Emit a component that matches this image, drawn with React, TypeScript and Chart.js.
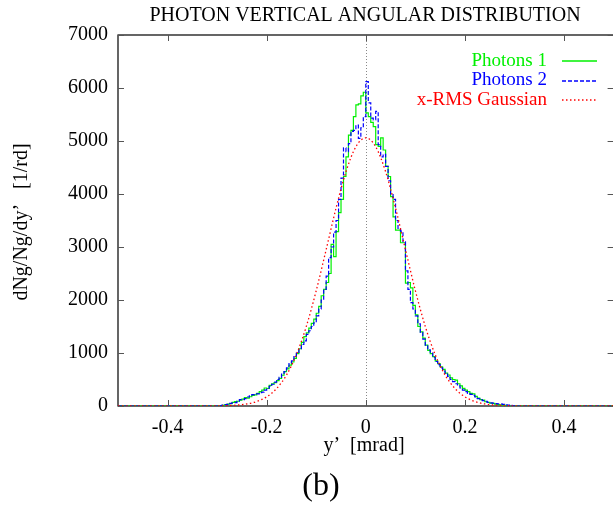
import React, { useEffect, useRef } from "react";
import { Chart, registerables } from "chart.js";

Chart.register(...registerables);

// ---- data ----
const BIN_START = -0.3;
const BIN_WIDTH = 0.005;
const X_MIN = -0.5;
const X_MAX = 0.5;
const Y_MIN = 0;
const Y_MAX = 7000;

const xTicks = [-0.4, -0.2, 0, 0.2, 0.4];
const yTicks = [0, 1000, 2000, 3000, 4000, 5000, 6000, 7000];

// Photons 1 histogram (bins of 0.005 mrad starting at -0.3)
const photons1 = [
  0, 0, 10, 20, 35, 45, 70, 85, 90, 110,
  130, 160, 150, 175, 200, 210, 240, 270, 300, 340,
  330, 390, 420, 440, 480, 520, 580, 650, 700, 770,
  830, 900, 990, 1080, 1200, 1310, 1380, 1470, 1560, 1640,
  1750, 1880, 2080, 2200, 2330, 2500, 3050, 2820, 3290, 3650,
  3900, 4330, 4700, 5110, 5200, 5460, 5680, 5700, 5850, 5920,
  5530, 5460, 5350, 5270, 4930, 4900, 5060, 4830, 4520, 4330,
  3950, 3570, 3320, 3320, 3080, 3080, 2320, 2330, 2230, 1900,
  1720, 1500, 1400, 1280, 1150, 1050, 990, 930, 850, 800,
  740, 690, 620, 585, 530, 500, 490, 420, 380, 334,
  300, 270, 240, 230, 180, 150, 120, 110, 80, 70,
  55, 50, 35, 25, 20, 15, 10, 5, 0, 0,
];

// Photons 2 histogram (same bins)
const photons2 = [
  0, 5, 15, 25, 30, 50, 60, 65, 90, 120,
  120, 140, 170, 190, 215, 230, 230, 250, 260, 300,
  330, 370, 410, 450, 500, 540, 600, 650, 720, 800,
  850, 930, 1000, 1080, 1160, 1230, 1350, 1420, 1500, 1570,
  1700, 1830, 2000, 2200, 2450, 2800, 3000, 3280, 3500, 3900,
  4300, 4870, 4800, 4950, 5180, 5200, 5300, 5050, 5250, 5460,
  6120, 5720, 5430, 5400, 5560, 4930, 4700, 4750, 4520, 4250,
  4000, 3900, 3500, 3350, 3300, 3100, 2550, 2200, 1950, 1830,
  1700, 1550, 1390, 1260, 1150, 1060, 1000, 920, 840, 780,
  720, 660, 600, 560, 500, 460, 420, 380, 340, 300,
  270, 240, 220, 200, 170, 140, 120, 100, 90, 70,
  60, 55, 45, 40, 40, 30, 20, 15, 10, 5,
];

// x-RMS Gaussian curve
const gaussX = [
  -0.5, -0.3, -0.28, -0.26, -0.24, -0.22, -0.2, -0.18, -0.16, -0.14, -0.12,
  -0.1, -0.08, -0.06, -0.04, -0.02, 0, 0.02, 0.04, 0.06, 0.08, 0.1,
  0.12, 0.14, 0.16, 0.18, 0.2, 0.22, 0.24, 0.26, 0.28, 0.3, 0.5,
];
const gaussY = [
  0, 3, 7, 17, 39, 85, 174, 329, 584, 969, 1502,
  2177, 2950, 3735, 4421, 4892, 5060, 4892, 4421, 3735, 2950, 2177,
  1502, 969, 584, 329, 174, 85, 39, 17, 7, 3, 0,
];

const seriesNames = ["Photons 1", "Photons 2", "x-RMS Gaussian"];
const seriesColors = ["#00f000", "#0000ff", "#ff0000"];

const TITLE = "PHOTON VERTICAL ANGULAR DISTRIBUTION";
const X_TITLE = "y’  [mrad]";
const Y_TITLE = "dNg/Ng/dy’   [1/rd]";
const PANEL = "(b)";

const FONT = "'Liberation Serif', 'Times New Roman', serif";

function histPoints(values: number[]) {
  const pts: { x: number; y: number }[] = [{ x: X_MIN, y: 0 }];
  values.forEach((v, i) => {
    pts.push({ x: +(BIN_START + i * BIN_WIDTH).toFixed(4), y: v });
  });
  pts.push({ x: +(BIN_START + values.length * BIN_WIDTH).toFixed(4), y: 0 });
  pts.push({ x: X_MAX, y: 0 });
  return pts;
}

const framePlugin = {
  id: "frame",
  beforeDatasetsDraw(chart: any) {
    const { ctx, chartArea: a, scales } = chart;
    const xs = scales.x;
    const ys = scales.y;
    ctx.save();
    // zero axis dotted
    const x0 = Math.round(xs.getPixelForValue(0)) + 0.5;
    ctx.strokeStyle = "#888888";
    ctx.lineWidth = 1;
    ctx.setLineDash([1, 2]);
    ctx.beginPath();
    ctx.moveTo(x0, a.top);
    ctx.lineTo(x0, a.bottom);
    ctx.stroke();
    ctx.setLineDash([]);
    // border
    ctx.strokeStyle = "#000000";
    ctx.lineWidth = 1.2;
    ctx.strokeRect(a.left, a.top, a.right - a.left, a.bottom - a.top);
    // ticks
    const tl = 6;
    ctx.strokeStyle = "#555555";
    ctx.lineWidth = 1;
    ctx.beginPath();
    xTicks.forEach((v) => {
      const px = Math.round(xs.getPixelForValue(v)) + 0.5;
      ctx.moveTo(px, a.bottom);
      ctx.lineTo(px, a.bottom - tl);
      ctx.moveTo(px, a.top);
      ctx.lineTo(px, a.top + tl);
    });
    yTicks.forEach((v) => {
      const py = Math.round(ys.getPixelForValue(v)) + 0.5;
      ctx.moveTo(a.left, py);
      ctx.lineTo(a.left + tl, py);
      ctx.moveTo(a.right, py);
      ctx.lineTo(a.right - tl, py);
    });
    ctx.stroke();
    ctx.restore();
  },
  afterDraw(chart: any) {
    const { ctx } = chart;
    ctx.save();
    ctx.fillStyle = "#000000";
    // title
    ctx.font = `20px ${FONT}`;
    ctx.textAlign = "center";
    ctx.textBaseline = "middle";
    ctx.fillText(TITLE, 365, 16);
    // x title
    ctx.font = `20px ${FONT}`;
    ctx.fillText(X_TITLE, 364, 446);
    // panel label
    ctx.font = `32px ${FONT}`;
    ctx.fillText(PANEL, 321, 487);
    // y title
    ctx.save();
    ctx.translate(22, 222);
    ctx.rotate(-Math.PI / 2);
    ctx.font = `20px ${FONT}`;
    ctx.fillText(Y_TITLE, 0, 0);
    ctx.restore();
    // legend
    const rows = [61, 80.5, 100];
    const dashes = [[], [4, 2], [1.5, 2.5]];
    ctx.font = `19px ${FONT}`;
    ctx.textAlign = "right";
    rows.forEach((y, i) => {
      ctx.fillStyle = seriesColors[i];
      ctx.fillText(seriesNames[i], 547, y);
    });
    rows.forEach((y, i) => {
      ctx.strokeStyle = seriesColors[i];
      ctx.lineWidth = 1.5;
      ctx.setLineDash(dashes[i]);
      ctx.beginPath();
      ctx.moveTo(562, Math.round(y));
      ctx.lineTo(597, Math.round(y));
      ctx.stroke();
    });
    ctx.restore();
  },
};

export default function App() {
  const ref = useRef<HTMLCanvasElement | null>(null);
  useEffect(() => {
    if (!ref.current) return;
    const chart = new Chart(ref.current, {
      type: "line",
      data: {
        datasets: [
          {
            label: seriesNames[0],
            data: histPoints(photons1),
            borderColor: seriesColors[0],
            borderWidth: 1.2,
            stepped: true,
            pointRadius: 0,
            fill: false,
            order: 3,
          },
          {
            label: seriesNames[1],
            data: histPoints(photons2),
            borderColor: seriesColors[1],
            borderWidth: 1.2,
            borderDash: [4, 2],
            stepped: true,
            pointRadius: 0,
            fill: false,
            order: 2,
          },
          {
            label: seriesNames[2],
            data: gaussX.map((x, i) => ({ x, y: gaussY[i] })),
            borderColor: seriesColors[2],
            borderWidth: 1.3,
            borderDash: [1.5, 2.5],
            cubicInterpolationMode: "monotone",
            pointRadius: 0,
            fill: false,
            order: 1,
          },
        ],
      },
      options: {
        animation: false,
        responsive: false,
        maintainAspectRatio: false,
        layout: { padding: { top: 35, right: 640 - 613.6, left: 0, bottom: 0 } },
        plugins: {
          legend: { display: false },
          title: { display: false },
          tooltip: { enabled: false },
        },
        scales: {
          x: {
            type: "linear",
            min: X_MIN,
            max: X_MAX,
            grid: { display: false, drawTicks: false },
            border: { display: false },
            afterBuildTicks: (s: any) => {
              s.ticks = xTicks.map((v) => ({ value: v }));
            },
            afterFit: (s: any) => {
              s.height = 102;
            },
            ticks: {
              padding: 10,
              color: "#000000",
              font: { family: FONT, size: 20 },
              maxRotation: 0,
              callback: (v: any) => String(v),
            },
          },
          y: {
            type: "linear",
            min: Y_MIN,
            max: Y_MAX,
            grid: { display: false, drawTicks: false },
            border: { display: false },
            afterBuildTicks: (s: any) => {
              s.ticks = yTicks.map((v) => ({ value: v }));
            },
            afterFit: (s: any) => {
              s.width = 118;
            },
            ticks: {
              padding: 10,
              color: "#000000",
              font: { family: FONT, size: 20 },
              callback: (v: any) => String(v),
            },
          },
        },
      },
      plugins: [framePlugin],
    } as any);
    return () => chart.destroy();
  }, []);

  return (
    <div
      style={{
        position: "fixed",
        left: 0,
        top: 0,
        width: 613,
        height: 508,
        overflow: "hidden",
        background: "#ffffff",
      }}
    >
      <canvas ref={ref} width={640} height={508} style={{ display: "block" }} />
    </div>
  );
}
